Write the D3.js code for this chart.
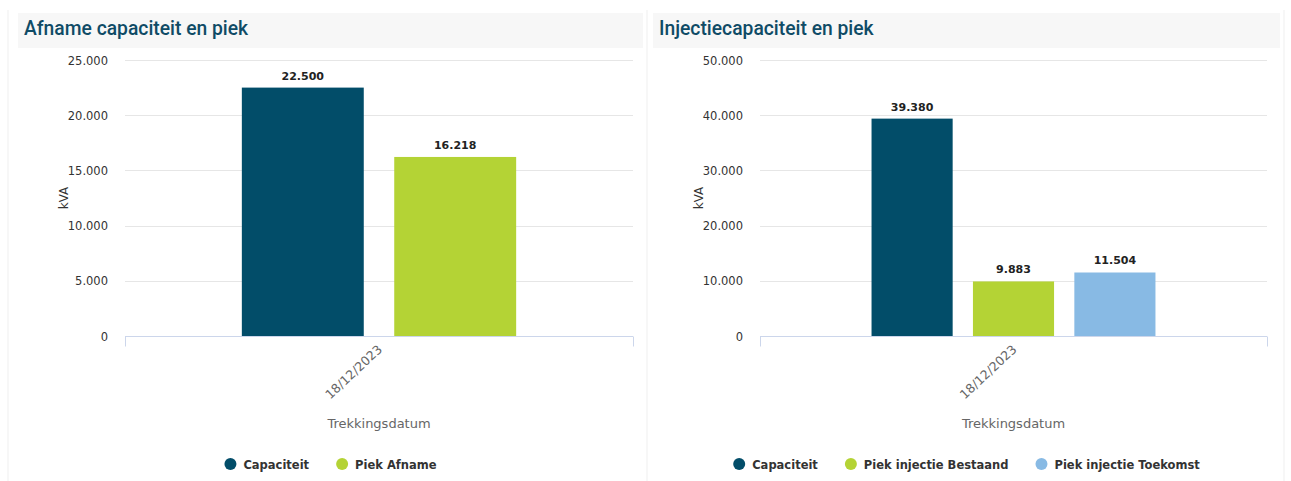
<!DOCTYPE html>
<html><head><meta charset="utf-8">
<script src="https://cdn.jsdelivr.net/npm/d3@7"></script>
<style>
html,body{margin:0;padding:0;background:#fff;}
svg{display:block;}
</style></head>
<body>
<svg id="c" width="1291" height="481"></svg>
<script>
// ---- data ----
const categories = ["18/12/2023"];
const leftTitle = "Afname capaciteit en piek";
const leftSeries = ["Capaciteit", "Piek Afname"];
const leftValues = [22500, 16218];
const leftTicks = [0, 5000, 10000, 15000, 20000, 25000];

const rightTitle = "Injectiecapaciteit en piek";
const rightSeries = ["Capaciteit", "Piek injectie Bestaand", "Piek injectie Toekomst"];
const rightValues = [39380, 9883, 11504];
const rightTicks = [0, 10000, 20000, 30000, 40000, 50000];

const yTitle = "kVA";
const xTitle = "Trekkingsdatum";
const seriesColors = {"Capaciteit":"#024d69","Piek Afname":"#b4d335","Piek injectie Bestaand":"#b4d335","Piek injectie Toekomst":"#88bae4"};

const loc = d3.formatLocale({decimal:",", thousands:".", grouping:[3], currency:["",""]});
const fmt = loc.format(",d");
const FONT = "'DejaVu Sans', Verdana, sans-serif";

const svg = d3.select("#c");

// panel frames
svg.append("line").attr("x1",8).attr("x2",8).attr("y1",10).attr("y2",481).attr("stroke","#efefef");
svg.append("line").attr("x1",647).attr("x2",647).attr("y1",10).attr("y2",481).attr("stroke","#efefef");
svg.append("line").attr("x1",1284).attr("x2",1284).attr("y1",10).attr("y2",481).attr("stroke","#efefef");

function panel(cfg){
  const g = svg.append("g");
  // header
  g.append("rect").attr("x",cfg.hx).attr("y",13).attr("width",cfg.hw).attr("height",35).attr("fill","#f7f7f7");
  g.append("text").attr("x",cfg.hx+6).attr("y",35).text(cfg.title)
    .attr("font-family","Roboto, sans-serif").attr("font-weight",500).attr("font-size",19.3)
    .attr("fill","#0f4b66");

  const y = d3.scaleLinear().domain([0, d3.max(cfg.ticks)]).range([cfg.py1, cfg.py0]);
  const x0 = d3.scaleBand().domain(categories).range([cfg.px0, cfg.px1]).padding(0.25);
  const x1 = d3.scaleBand().domain(cfg.series).range([0, x0.bandwidth()]).paddingInner(0.2).paddingOuter(0.1);

  // grid
  g.append("g").selectAll("line").data(cfg.ticks.filter(t=>t>0)).join("line")
    .attr("x1",cfg.px0).attr("x2",cfg.px1).attr("y1",d=>Math.round(y(d))+0.5).attr("y2",d=>Math.round(y(d))+0.5)
    .attr("stroke","#e6e6e6");

  // y axis labels
  const ya = g.append("g").attr("transform",`translate(${cfg.px0-17},0)`)
    .call(d3.axisLeft(y).tickValues(cfg.ticks).tickFormat(fmt).tickSize(0).tickPadding(0));
  ya.select(".domain").remove();
  ya.selectAll("text").attr("font-family",FONT).attr("font-size",11.5).attr("fill","#333").attr("dy","0.35em").attr("x",0);

  // y title
  g.append("text").attr("transform",`translate(${cfg.px0-61},${(cfg.py0+cfg.py1)/2}) rotate(-90)`)
    .attr("text-anchor","middle").attr("dy","0.35em").text(yTitle)
    .attr("font-family",FONT).attr("font-size",12).attr("fill","#333");

  // bars
  const data = cfg.series.map((s,i)=>({cat:categories[0], s, v:cfg.values[i]}));
  g.append("g").selectAll("rect").data(data).join("rect")
    .attr("x",d=>x0(d.cat)+x1(d.s)).attr("width",x1.bandwidth())
    .attr("y",d=>y(d.v)).attr("height",d=>y(0)-y(d.v))
    .attr("fill",d=>seriesColors[d.s]);

  // data labels
  g.append("g").selectAll("text").data(data).join("text")
    .attr("x",d=>x0(d.cat)+x1(d.s)+x1.bandwidth()/2).attr("y",d=>y(d.v)-8)
    .attr("text-anchor","middle").text(d=>fmt(d.v))
    .attr("font-family",FONT).attr("font-weight",700).attr("font-size",11).attr("fill","#222")
    .attr("stroke","#fff").attr("stroke-width",2).attr("paint-order","stroke");

  // x axis
  const xa = g.append("g").attr("transform",`translate(0,${cfg.py1+0.5})`);
  xa.append("line").attr("x1",cfg.px0).attr("x2",cfg.px1).attr("stroke","#ccd6eb");
  xa.selectAll("line.tk").data([cfg.px0, cfg.px1]).join("line").attr("class","tk")
    .attr("x1",d=>d+0.5).attr("x2",d=>d+0.5).attr("y1",0).attr("y2",10).attr("stroke","#ccd6eb");
  const cx = x0(categories[0]) + x0.bandwidth()/2;
  xa.append("text").attr("transform",`translate(${cx+4},${14}) rotate(-43)`)
    .attr("text-anchor","end").text(categories[0])
    .attr("font-family",FONT).attr("font-size",12.5).attr("fill","#666");
  g.append("text").attr("x",cx).attr("y",428).attr("text-anchor","middle").text(xTitle)
    .attr("font-family",FONT).attr("font-size",13).attr("fill","#666");

  // legend
  const lg = g.append("g");
  let xpos = 0;
  cfg.series.forEach((s,i)=>{
    const it = lg.append("g").attr("transform",`translate(${xpos},0)`);
    it.append("circle").attr("cx",6).attr("cy",0).attr("r",6).attr("fill",seriesColors[s]);
    const t = it.append("text").attr("x",19).attr("y",4.5).text(s)
      .attr("font-family",FONT).attr("font-weight",700).attr("font-size",11.5).attr("fill","#333");
    xpos += 19 + t.node().getComputedTextLength() + 27;
  });
  const total = xpos - 27;
  lg.attr("transform",`translate(${cfg.hx + cfg.hw/2 - total/2},464)`);
}

panel({title:leftTitle, series:leftSeries, values:leftValues, ticks:leftTicks,
  hx:18, hw:625, px0:125, px1:633, py0:60, py1:336});
panel({title:rightTitle, series:rightSeries, values:rightValues, ticks:rightTicks,
  hx:653, hw:627, px0:760, px1:1267, py0:60, py1:336});
</script>
</body></html>
